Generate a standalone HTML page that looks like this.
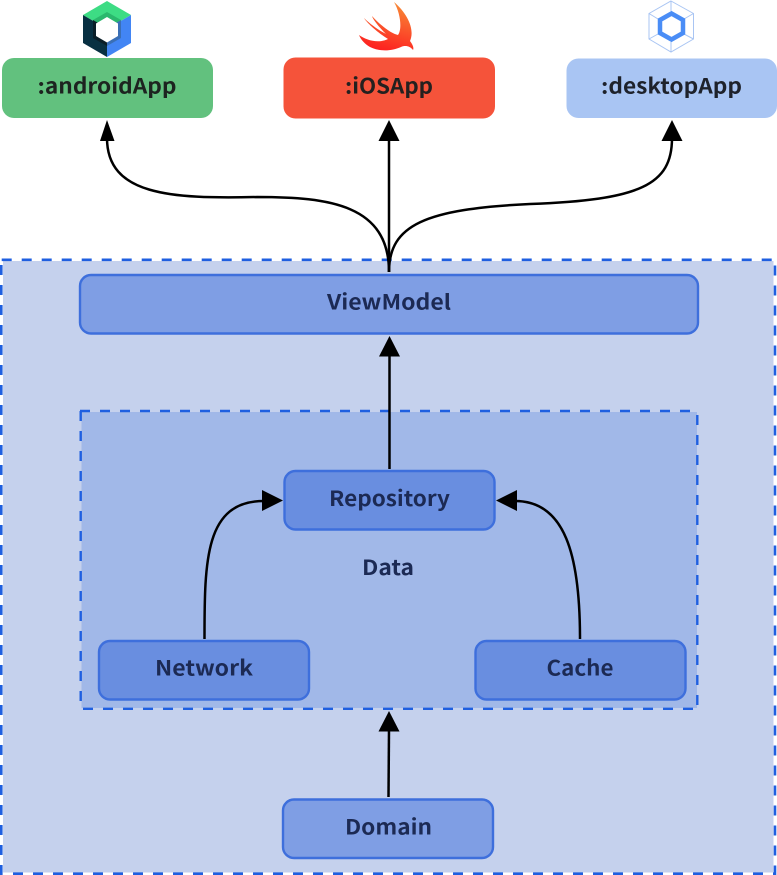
<!DOCTYPE html>
<html><head><meta charset="utf-8"><style>
html,body{margin:0;padding:0;background:#fff;width:777px;height:875px;overflow:hidden}
svg{display:block}
text{font-family:"Noto Sans CJK JP","DejaVu Sans",sans-serif;font-weight:bold;text-anchor:middle}
</style></head><body>
<svg width="777" height="875" viewBox="0 0 777 875" xmlns="http://www.w3.org/2000/svg">
<defs>
<linearGradient id="sw" x1="0.7" y1="0" x2="0.4" y2="1"><stop offset="0" stop-color="#f88a36"/><stop offset="1" stop-color="#fd2020"/></linearGradient>
</defs>
<!-- outer container -->
<rect x="3" y="261" width="770.500" height="611.500" fill="#c5d1ed"/>
<g fill="none" stroke="#1f5fe0" stroke-width="2.600" stroke-dasharray="10 10">
<path d="M1.700 259.800H776"/>
<path d="M775 265.500V875"/>
<path d="M1.300 265V875"/>
<path d="M13 873.700H776"/>
</g>
<!-- inner container -->
<rect x="81.500" y="412" width="615.500" height="296" fill="#a1b8e8"/>
<g fill="none" stroke="#1f5fe0" stroke-width="2.400" stroke-dasharray="10 10">
<path d="M80 411H698"/>
<path d="M80.700 411V709"/>
<path d="M697.300 415V709"/>
<path d="M83 708.800H698"/>
</g>
<!-- top boxes -->
<rect x="2" y="58" width="211" height="60" rx="12" fill="#62c17e"/>
<rect x="283.500" y="57.500" width="211.500" height="61" rx="12" fill="#f5533a"/>
<rect x="566.500" y="58.500" width="210.500" height="59.500" rx="12" fill="#a9c5f3"/>
<!-- inner boxes -->
<rect x="80" y="275" width="618" height="58.500" rx="11" fill="#7f9ee4" stroke="#3e6fdc" stroke-width="2.400"/>
<rect x="284.500" y="471" width="210" height="58.500" rx="11" fill="#698ee0" stroke="#3e6fdc" stroke-width="2.400"/>
<rect x="99" y="641" width="210" height="58.500" rx="11" fill="#698ee0" stroke="#3e6fdc" stroke-width="2.400"/>
<rect x="475.500" y="641" width="210" height="58.500" rx="11" fill="#698ee0" stroke="#3e6fdc" stroke-width="2.400"/>
<rect x="283" y="799.500" width="210" height="58.500" rx="11" fill="#7f9ee4" stroke="#3e6fdc" stroke-width="2.400"/>
<!-- connectors -->
<g fill="none" stroke="#000" stroke-width="2.500">
<path d="M389 272C389 205 330 197 257 197C170 199 107 195 107 138"/>
<path d="M389 272V138"/>
<path d="M389 272C389 225 425 209 530 204C640 200 672 185 672 138"/>
<path d="M389.500 469V354"/>
<path d="M388.500 797L389 729"/>
<path d="M204.500 639C204.500 560 205 501 264 501"/>
<path d="M580 639C580 555 565 501 515 501"/>
</g>
<g fill="#000">
<path d="M107 120L100 141H114.500Z"/>
<path d="M389 120L378.500 141H399.500Z"/>
<path d="M672 120L661.500 141H682.500Z"/>
<path d="M389.500 336L379 356.500H400Z"/>
<path d="M389 711L378.500 731.500H399.500Z"/>
<path d="M283 500.500L262 490V511Z"/>
<path d="M496 500.500L517 490V511Z"/>
</g>
<!-- labels -->
<g font-size="21">
<text x="107" y="93.700" fill="#1d2420" textLength="139" lengthAdjust="spacingAndGlyphs">:androidApp</text>
<text x="389" y="93.700" fill="#24201f" textLength="88" lengthAdjust="spacingAndGlyphs">:iOSApp</text>
<text x="671.500" y="93.700" fill="#1e222b" textLength="141" lengthAdjust="spacingAndGlyphs">:desktopApp</text>
<text x="389" y="309.700" fill="#1c2a54" textLength="124" lengthAdjust="spacingAndGlyphs">ViewModel</text>
<text x="389.500" y="506" fill="#1c2a54" textLength="121" lengthAdjust="spacingAndGlyphs">Repository</text>
<text x="204" y="675.700" fill="#1c2a54" textLength="98" lengthAdjust="spacingAndGlyphs">Network</text>
<text x="580" y="675.700" fill="#1c2a54" textLength="67" lengthAdjust="spacingAndGlyphs">Cache</text>
<text x="388.500" y="834.700" fill="#1c2a54" textLength="87" lengthAdjust="spacingAndGlyphs">Domain</text>
<text x="388" y="575" fill="#1c2a54" textLength="52" lengthAdjust="spacingAndGlyphs">Data</text>
</g>
<!-- Jetpack compose icon -->
<path d="M107 1L131 15L107 29L83 15Z" fill="#3ddc84"/>
<path d="M83 15L107 29V57L83 43Z" fill="#083042"/>
<path d="M131 15L107 29V57L131 43Z" fill="#4285f4"/>
<path d="M107 12L121 20L107 28L93 20Z" fill="#2ab86d"/>
<path d="M93 20L107 28V46L93 38Z" fill="#0a1e28"/>
<path d="M121 20L107 28V46L121 38Z" fill="#3a6fb5"/>
<path d="M107 17L118 23.500V36L107 42.500L96 36V23.500Z" fill="#fff"/>
<!-- swift icon -->
<path d="M394 2C408 14 415 30 410 41C413 45 414 48 413 50C410 46 405 45 401 47C392 51 380 52 370 47C365 44 361 40 359 35C366 40 378 44 388 39C378 33 366 22 364 18C372 26 382 32 386 34C380 28 373 20 372 16C381 26 392 34 398 35C402 30 401 14 394 2Z" fill="url(#sw)"/>
<!-- desktop hexagon icon -->
<g fill="none" stroke="#a9c5f3" stroke-width="1">
<path d="M671 1L693.500 13.500V39L671 52L649 39V13.500Z"/>
<path d="M671 1V11M693.500 13.500L684 19M649 13.500L658 19M671 52V42M693.500 39L684 34M649 39L658 34"/>
</g>
<path d="M671.500 13.500L683 20V33L671.500 39.500L660 33V20Z" fill="none" stroke="#4a8df6" stroke-width="4.500"/>
</svg>
</body></html>
